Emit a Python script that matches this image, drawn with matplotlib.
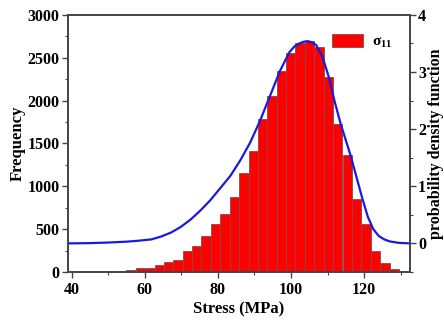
import numpy as np
import matplotlib
matplotlib.use('Agg')
import matplotlib.pyplot as plt
from matplotlib.ticker import MultipleLocator

# histogram of sigma_11 (bin centres in MPa, counts)
bin_centers = [44.7, 47.3, 49.9, 53.7, 56.3, 58.8, 61.4, 64.0, 66.5, 69.1, 71.7, 74.3,
               76.8, 79.4, 82.0, 84.5, 87.1, 89.7, 92.3, 94.8, 97.4, 100.0,
               102.5, 105.1, 107.7, 110.2, 112.8, 115.4, 118.0, 120.5, 123.1,
               125.7, 128.2]
counts = [4, 5, 3, 15, 22, 48, 50, 85, 115, 140, 240, 305, 415, 555, 680, 880,
          1160, 1415, 1790, 2055, 2345, 2560, 2670, 2690, 2620, 2280, 1730,
          1365, 850, 565, 250, 100, 30]
bin_width = 2.57

# fitted probability density curve
pdf_x = [39.0, 45, 50, 55, 58, 61.8, 64.5, 67.2, 69.9, 72.6, 75.3, 78, 80.7,
         83.4, 86.1, 88.8, 91.5, 94.2, 97, 99.6, 101, 102.3, 103.5, 104.6,
         105.7, 106.9, 108.6, 110.3, 112.0, 113.6, 116.3, 119.5, 121.0, 122.5,
         124, 125.5, 127, 129.4, 132.5]
pdf_y = [0.0, 0.005, 0.015, 0.03, 0.045, 0.07, 0.12, 0.19, 0.29, 0.42, 0.58,
         0.76, 0.97, 1.18, 1.45, 1.76, 2.14, 2.57, 3.02, 3.35, 3.45, 3.5, 3.53,
         3.54, 3.52, 3.47, 3.27, 2.92, 2.47, 2.09, 1.54, 0.79, 0.47, 0.25,
         0.13, 0.07, 0.035, 0.01, 0.0]

plt.rcParams['font.family'] = ['Liberation Serif', 'DejaVu Serif']
plt.rcParams['font.weight'] = 'bold'
plt.rcParams['mathtext.fontset'] = 'custom'
plt.rcParams['mathtext.rm'] = 'Liberation Serif'
plt.rcParams['mathtext.it'] = 'Liberation Serif'
plt.rcParams['mathtext.bf'] = 'Liberation Serif:bold'

edge = '#444444'
fig = plt.figure(figsize=(4.44, 3.23), dpi=100)
ax1 = fig.add_axes([0.153, 0.158, 0.770, 0.796])

ax1.bar(bin_centers, counts, width=bin_width, color='#ff0000',
        edgecolor='#8a4a4a', linewidth=0.6, label=r'$\mathregular{\sigma_{11}}$')
ax1.set_xlim(39, 132.5)
ax1.set_ylim(0, 3000)
ax1.xaxis.set_major_locator(MultipleLocator(20))
ax1.xaxis.set_minor_locator(MultipleLocator(10))
ax1.yaxis.set_major_locator(MultipleLocator(500))
ax1.yaxis.set_minor_locator(MultipleLocator(250))
ax1.set_xlabel('Stress (MPa)', fontsize=12, fontweight='bold', labelpad=3)
ax1.set_ylabel('Frequency', fontsize=12, fontweight='bold', labelpad=1)

ax2 = ax1.twinx()
ax2.plot(pdf_x, pdf_y, color='#1a1adc', linewidth=1.6)
ax2.set_ylim(-0.5, 4)
ax2.yaxis.set_minor_locator(MultipleLocator(0.5))
ax2.set_yticks([0, 1, 2, 3, 4])
ax2.set_ylabel('probability density function', fontsize=11.5, fontweight='bold', labelpad=1)

for ax in (ax1, ax2):
    for sp in ax.spines.values():
        sp.set_color(edge)
        sp.set_linewidth(1.2)
    ax.tick_params(which='major', direction='out', length=4, width=1.0,
                   color=edge, labelsize=11.5, pad=2)
    ax.tick_params(which='minor', direction='out', length=2.5, width=0.8, color=edge)
ax1.tick_params(axis='x', pad=3)

leg = ax1.legend(loc='upper right', bbox_to_anchor=(0.99, 0.98), frameon=False,
                 fontsize=11, handlelength=2.0, handleheight=1.0, handletextpad=0.6)
for t in leg.get_texts():
    t.set_fontweight('bold')

fig.savefig('out.png', dpi=100)
